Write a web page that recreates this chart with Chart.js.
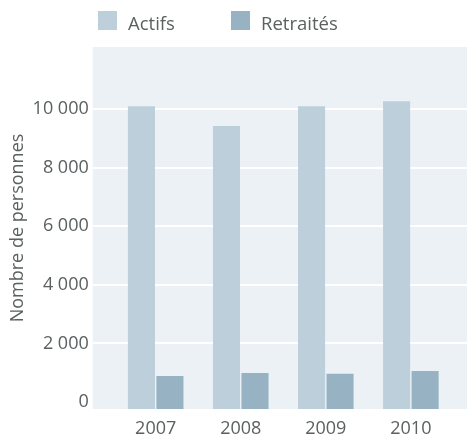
<!DOCTYPE html>
<html>
<head>
<meta charset="utf-8">
<script src="https://cdn.jsdelivr.net/npm/chart.js@4.4.1/dist/chart.umd.min.js"></script>
<style>
  html, body { margin: 0; padding: 0; background: #fff; }
  #wrap { width: 468px; height: 434px; }
</style>
</head>
<body>
<div id="wrap"><canvas id="canvas"></canvas></div>
<script>
// donnees
var annees = [2007, 2008, 2009, 2010];
var actifs = [10100, 9420, 10100, 10270];
var retraites = [890, 990, 960, 1060];
var yTicks = [0, 2000, 4000, 6000, 8000, 10000];

var yMin = -240;
var yMax = 12120;
var gris = '#5b6060';

/* fond gris clair de la zone du graphique */
var fondPlugin = {
  id: 'fond',
  beforeDraw: function(chart) {
    var a = chart.chartArea;
    var ctx = chart.ctx;
    ctx.save();
    ctx.fillStyle = '#ecf1f5';
    ctx.fillRect(a.left, a.top, a.right - a.left, a.bottom - a.top);
    ctx.restore();
  }
};

/* legende en haut, a gauche */
var legendePlugin = {
  id: 'legende',
  afterDraw: function(chart) {
    var ctx = chart.ctx;
    var pos = [98, 231];
    ctx.save();
    ctx.font = '18.5px "Open Sans"';
    ctx.textBaseline = 'alphabetic';
    chart.data.datasets.forEach(function(ds, i) {
      ctx.fillStyle = ds.backgroundColor;
      ctx.fillRect(pos[i], 11, 19, 19);
      ctx.fillStyle = gris;
      ctx.fillText(ds.label, pos[i] + 30, 30);
    });
    ctx.restore();
  }
};

function points(valeurs) {
  return annees.map(function(a, i) { return {x: a, y: valeurs[i]}; });
}

const ctx = document.getElementById('canvas');
new Chart(ctx, {
  type: 'bar',
  data: {
    datasets: [{
      label: 'Actifs',
      data: points(actifs),
      backgroundColor: '#bdcfdb',
      base: yMin
    },
    {
      label: 'Retraités',
      data: points(retraites),
      backgroundColor: '#97b2c2',
      base: yMin
    }]
  },
  plugins: [fondPlugin, legendePlugin],
  options: {
    responsive: true,
    maintainAspectRatio: false,
    animation: false,
    categoryPercentage: 0.67,
    barPercentage: 0.95,
    layout: {
      padding: {top: 47, left: 7, right: 1, bottom: -15}
    },
    plugins: {
      legend: { display: false },
      tooltip: { enabled: false }
    },
    scales: {
      x: {
        type: 'linear',
        offset: false,
        min: 2006.26,
        max: 2010.66,
        grid: { display: false, drawTicks: false, offset: false },
        border: { display: false },
        afterBuildTicks: function(scale) {
          scale.ticks = annees.map(function(a) { return {value: a}; });
        },
        ticks: {
          stepSize: 1,
          includeBounds: false,
          maxRotation: 0,
          padding: 11,
          color: gris,
          font: { family: 'Open Sans', size: 18, lineHeight: 1 },
          callback: function(v) { return String(v); }
        }
      },
      y: {
        min: yMin,
        max: yMax,
        border: { display: false },
        grid: {
          drawTicks: false,
          lineWidth: 2,
          color: function(c) {
            return c.tick && c.tick.value === 0 ? 'rgba(0,0,0,0)' : '#ffffff';
          }
        },
        afterBuildTicks: function(scale) {
          scale.ticks = yTicks.map(function(t) { return {value: t}; });
        },
        ticks: {
          padding: 4,
          color: gris,
          font: { family: 'Open Sans', size: 18 },
          callback: function(v) {
            return String(v).replace(/\B(?=(\d{3})+(?!\d))/g, ' ');
          }
        },
        title: {
          display: true,
          text: 'Nombre de personnes',
          color: gris,
          padding: { top: 0, bottom: 0 },
          font: { family: 'Open Sans', size: 18 }
        }
      }
    }
  }
});
</script>
</body>
</html>
